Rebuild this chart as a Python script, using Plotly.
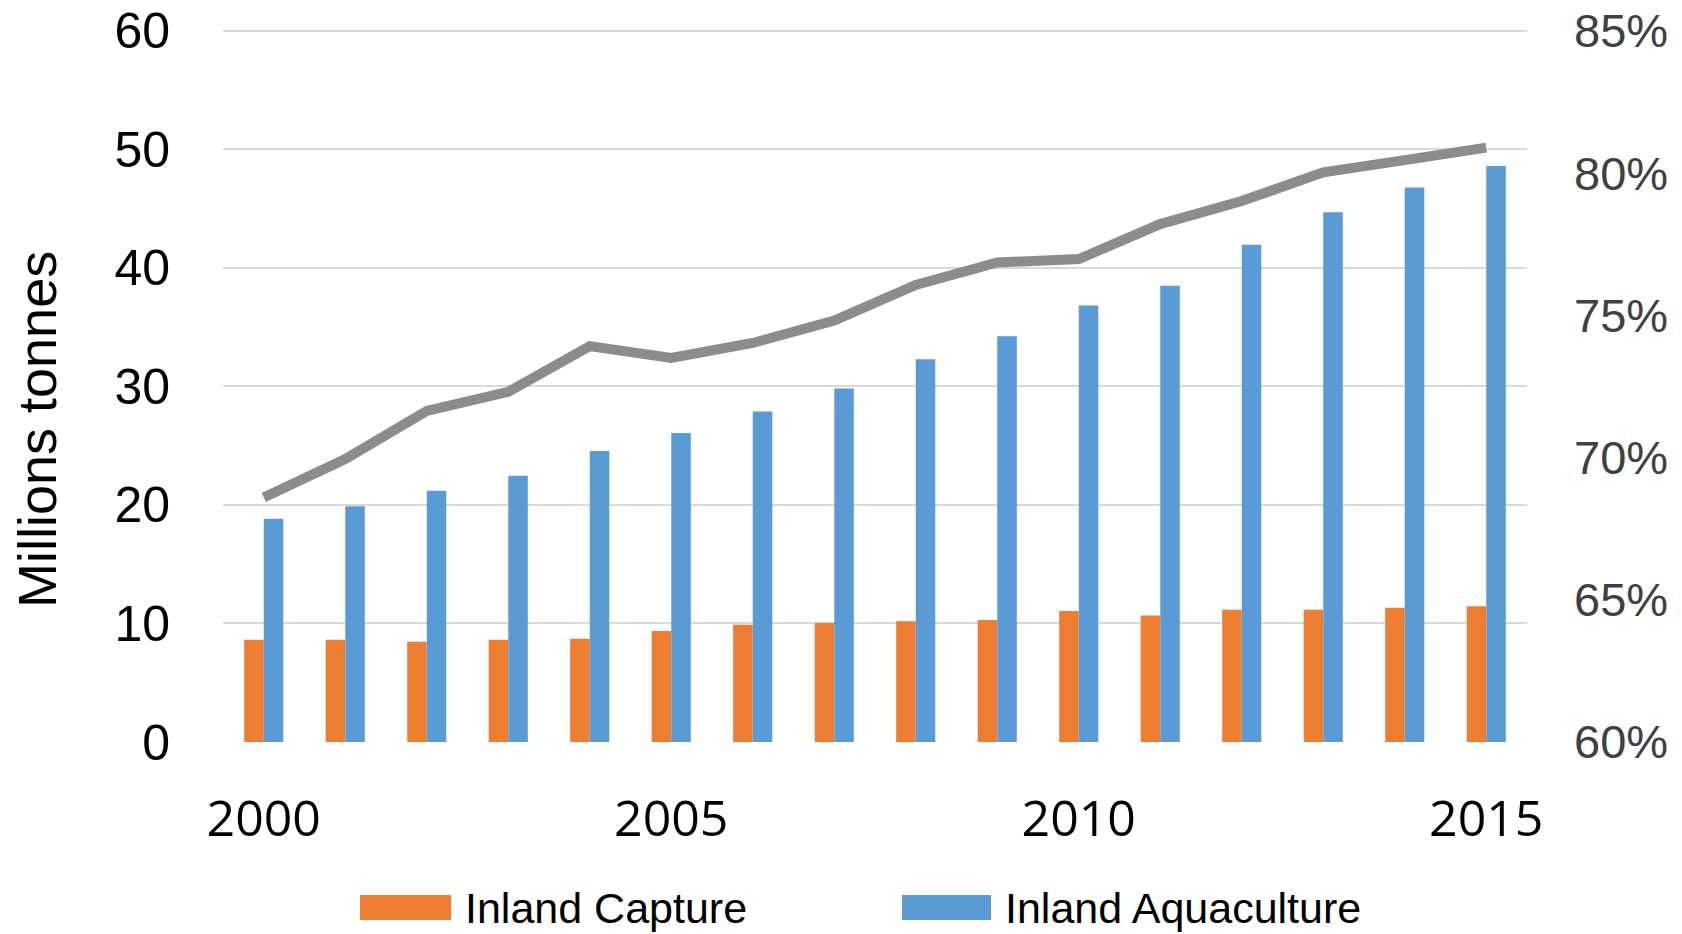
import plotly.graph_objects as go

# Inland fisheries production, 2000-2015
years = list(range(2000, 2016))
inland_capture = [8.62, 8.62, 8.45, 8.62, 8.72, 9.37, 9.90, 10.04,
                  10.18, 10.29, 11.06, 10.68, 11.17, 11.17, 11.32, 11.46]
inland_aquaculture = [18.84, 19.90, 21.20, 22.47, 24.55, 26.08, 27.89, 29.84,
                      32.29, 34.24, 36.83, 38.50, 41.97, 44.70, 46.80, 48.60]
aquaculture_share = [68.6, 69.95, 71.64, 72.31, 73.92, 73.50, 74.03, 74.82,
                     76.07, 76.86, 76.98, 78.21, 79.02, 80.03, 80.46, 80.90]

x_ticks = [2000, 2005, 2010, 2015]
left_ticks = [0, 10, 20, 30, 40, 50, 60]
right_ticks = [60, 65, 70, 75, 80, 85]
right_labels = ["60%", "65%", "70%", "75%", "80%", "85%"]

ORANGE = "#ED7D31"
BLUE = "#5B9BD5"
GREY_LINE = "#8C8C8C"
GRID = "#D9D9D9"
SANS = "Liberation Sans, Arial, sans-serif"
ROUND = "Open Sans, Liberation Sans, sans-serif"

W, H = 1682, 934
PL, PR, PT, PB = 223, 1527, 28, 742  # plot area in pixels

# a little headroom above the top gridline so it is still drawn
Y_TOP = 60.25
Y2_TOP = 60 + 25 * Y_TOP / 60


def px_x(px):
    return (px - PL) / (PR - PL)


def px_y(py):
    return (PB - py) / (PB - PT)


fig = go.Figure()
fig.add_trace(go.Bar(x=years, y=inland_capture, name="Inland Capture",
                     marker=dict(color=ORANGE, line=dict(width=0))))
fig.add_trace(go.Bar(x=years, y=inland_aquaculture, name="Inland Aquaculture",
                     marker=dict(color=BLUE, line=dict(width=0))))
fig.add_trace(go.Scatter(x=years, y=aquaculture_share, yaxis="y2", mode="lines",
                         line=dict(color=GREY_LINE, width=10),
                         name="Aquaculture share", showlegend=False))

fig.update_layout(
    width=W, height=H, autosize=False,
    margin=dict(l=PL, r=W - PR, t=PT, b=H - PB, pad=0, autoexpand=False),
    paper_bgcolor="white", plot_bgcolor="white",
    barmode="group", bargap=0.52, bargroupgap=0,
    showlegend=False,
    xaxis=dict(range=[1999.5, 2015.5], tickvals=x_ticks,
               ticktext=[str(v) for v in x_ticks], automargin=False,
               showgrid=False, zeroline=False, showline=False, ticks="",
               tickfont=dict(family=ROUND, size=50, color="#000000"),
               ticklabelstandoff=43, ticklabeloverflow="allow"),
    yaxis=dict(range=[0, Y_TOP], tickvals=left_ticks, automargin=False,
               showgrid=True, gridcolor=GRID, gridwidth=1.5,
               zeroline=False, showline=False, ticks="",
               tickfont=dict(family=SANS, size=50, color="#000000"),
               ticklabelstandoff=52, ticklabeloverflow="allow"),
    yaxis2=dict(range=[60, Y2_TOP], tickvals=right_ticks, ticktext=right_labels,
                overlaying="y", side="right", showgrid=False, automargin=False,
                zeroline=False, showline=False, ticks="",
                tickfont=dict(family=SANS, size=47, color="#404040"),
                ticklabelstandoff=46, ticklabeloverflow="allow"),
)

# Vertical axis title
fig.add_annotation(text="Millions tonnes", textangle=-90,
                   xref="paper", yref="paper", x=px_x(37), y=px_y(430),
                   xanchor="center", yanchor="middle", showarrow=False,
                   font=dict(family=SANS, size=54, color="#000000"))

# Legend: wide swatches with labels below the plot
legend_items = [("Inland Capture", ORANGE, 360, 451, 463),
                ("Inland Aquaculture", BLUE, 902, 991, 1003)]
for label, color, sx0, sx1, tx in legend_items:
    fig.add_shape(type="rect", xref="paper", yref="paper",
                  x0=px_x(sx0), x1=px_x(sx1), y0=px_y(920), y1=px_y(895),
                  fillcolor=color, line=dict(width=0))
    fig.add_annotation(text=label, xref="paper", yref="paper",
                       x=px_x(tx), y=px_y(908), xanchor="left", yanchor="middle",
                       showarrow=False,
                       font=dict(family=SANS, size=43, color="#000000"))

fig.write_html("out.html")
